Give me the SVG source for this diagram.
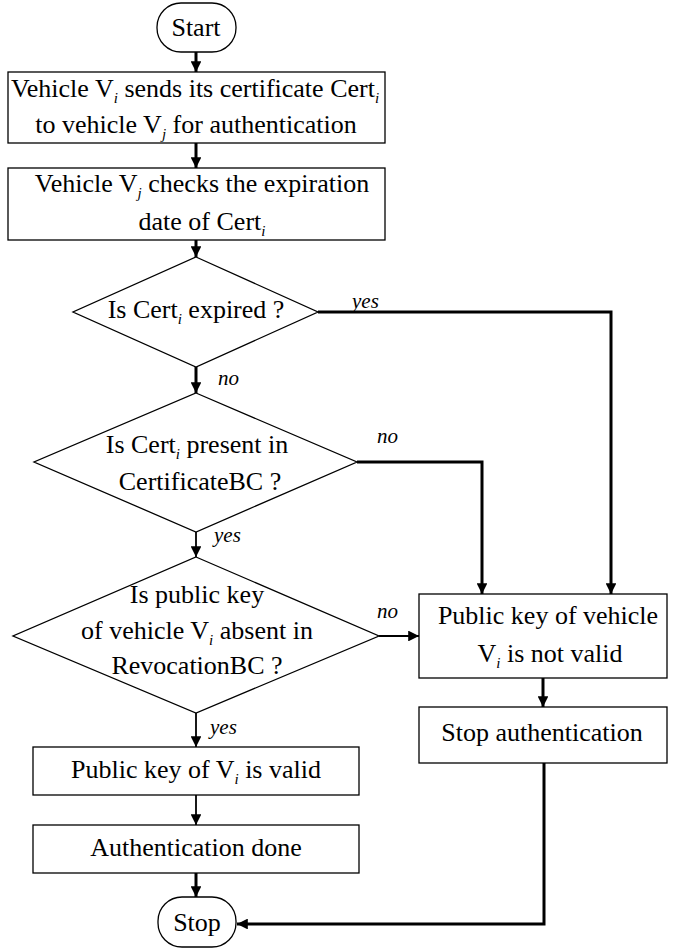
<svg xmlns="http://www.w3.org/2000/svg" width="675" height="951" viewBox="0 0 675 951">
<defs>
<marker id="ah" viewBox="0 0 10 10" refX="10" refY="5" markerWidth="3.6" markerHeight="3.6" markerUnits="strokeWidth" orient="auto"><path d="M0,0 L10,5 L0,10 z" fill="#000"/></marker>
<marker id="ahs" viewBox="0 0 10 10" refX="10" refY="5" markerWidth="6" markerHeight="6" markerUnits="strokeWidth" orient="auto"><path d="M0,0 L10,5 L0,10 z" fill="#000"/></marker>
<style>
.n{fill:#fff;stroke:#000;stroke-width:1.3}
.t{font-family:'Liberation Serif','Times New Roman',serif;font-size:26px;fill:#000;text-anchor:middle}
.s{font-style:italic;font-size:15px}
.l{font-family:'Liberation Serif','Times New Roman',serif;font-size:21px;font-style:italic;fill:#000}
.c{fill:none;stroke:#000;stroke-width:3;marker-end:url(#ah)}
.c2{fill:none;stroke:#000;stroke-width:1.8;marker-end:url(#ahs)}
</style>
</defs>
<g id="connectors">
<path class="c" d="M196,52 V72"/>
<path class="c" d="M196,143 V168"/>
<path class="c" d="M196,240 V257"/>
<path class="c" d="M196,367 V393"/>
<path class="c2" d="M196,532 V557"/>
<path class="c2" d="M196,713 V747"/>
<path class="c2" d="M196,795 V825"/>
<path class="c" d="M196,873 V897"/>
<path class="c" d="M318,312 H611 V594"/>
<path class="c" d="M357,462 H482 V594"/>
<path class="c2" d="M379,636 H419"/>
<path class="c" d="M543,678 V707"/>
<path class="c" d="M544,763 V924 H237"/>
</g>
<g id="labels">
<text class="l" x="352" y="308">yes</text>
<text class="l" x="218" y="385">no</text>
<text class="l" x="377" y="443">no</text>
<text class="l" x="214" y="542">yes</text>
<text class="l" x="377" y="618">no</text>
<text class="l" x="210" y="734">yes</text>
</g>
<g id="start">
<rect class="n" x="157" y="3" width="79" height="49" rx="24" ry="24"/>
<text class="t" x="196" y="36">Start</text>
</g>
<g id="send">
<rect class="n" x="8" y="72" width="377" height="71"/>
<text class="t" x="195" y="97">Vehicle V<tspan class="s" dy="6">i</tspan><tspan dy="-6">  sends its certificate Cert</tspan><tspan class="s" dy="6">i</tspan></text>
<text class="t" x="196" y="133">to vehicle V<tspan class="s" dy="6">j</tspan><tspan dy="-6">  for authentication</tspan></text>
</g>
<g id="check">
<rect class="n" x="8" y="168" width="377" height="72"/>
<text class="t" x="202" y="192">Vehicle V<tspan class="s" dy="6">j</tspan><tspan dy="-6">  checks the expiration</tspan></text>
<text class="t" x="202" y="230">date  of Cert<tspan class="s" dy="6">i</tspan></text>
</g>
<g id="expired">
<polygon class="n" points="196,257 318,312 196,367 73,312"/>
<text class="t" x="196" y="318">Is Cert<tspan class="s" dy="6">i</tspan><tspan dy="-6">  expired ?</tspan></text>
</g>
<g id="present">
<polygon class="n" points="196,393 357,462 196,532 34,462"/>
<text class="t" x="197" y="453">Is Cert<tspan class="s" dy="6">i</tspan><tspan dy="-6">  present in</tspan></text>
<text class="t" x="200" y="490">CertificateBC ?</text>
</g>
<g id="revoked">
<polygon class="n" points="196,557 379,636 196,713 13,636"/>
<text class="t" x="197" y="603">Is public key</text>
<text class="t" x="197" y="639">of vehicle V<tspan class="s" dy="6">i</tspan><tspan dy="-6">  absent in</tspan></text>
<text class="t" x="197" y="674">RevocationBC ?</text>
</g>
<g id="valid">
<rect class="n" x="33" y="747" width="326" height="48"/>
<text class="t" x="196" y="778">Public key of V<tspan class="s" dy="6">i</tspan><tspan dy="-6">  is valid</tspan></text>
</g>
<g id="done">
<rect class="n" x="33" y="825" width="326" height="48"/>
<text class="t" x="196" y="856">Authentication done</text>
</g>
<g id="stop">
<rect class="n" x="158" y="897" width="78" height="50" rx="24" ry="24"/>
<text class="t" x="197" y="931">Stop</text>
</g>
<g id="notvalid">
<rect class="n" x="419" y="594" width="248" height="84"/>
<text class="t" x="548" y="624">Public key of vehicle</text>
<text class="t" x="550" y="662">V<tspan class="s" dy="6">i</tspan><tspan dy="-6">  is not valid</tspan></text>
</g>
<g id="stopauth">
<rect class="n" x="419" y="707" width="248" height="56"/>
<text class="t" x="542" y="741">Stop authentication</text>
</g>
</svg>
